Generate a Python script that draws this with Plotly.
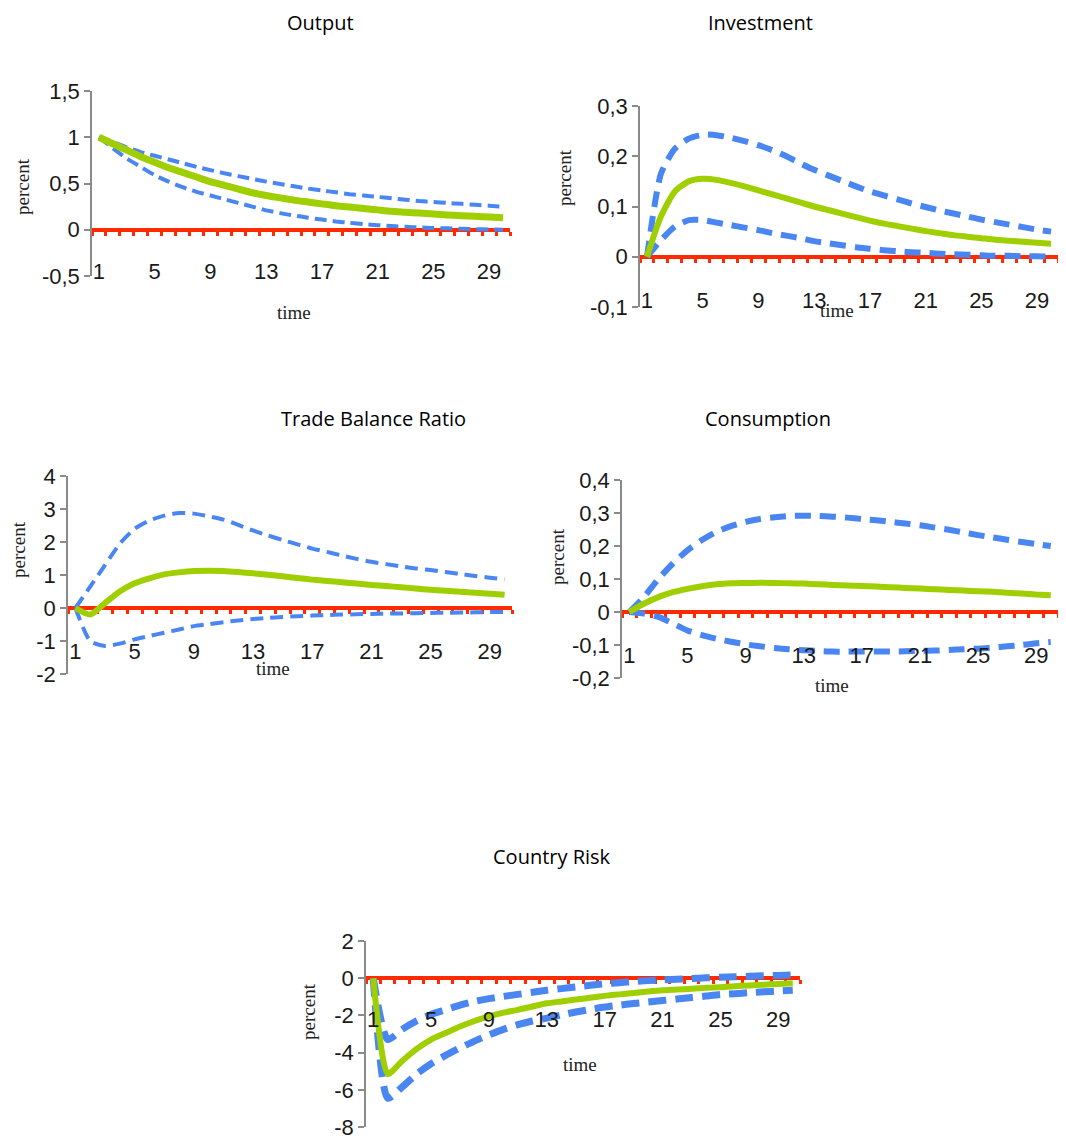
import plotly.graph_objects as go

periods = list(range(1, 31))
x_tick_labels = ["1", "5", "9", "13", "17", "21", "25", "29"]

output_mid = [1.0, 0.93, 0.86, 0.79, 0.73, 0.67, 0.62, 0.57, 0.52, 0.48, 0.44, 0.40, 0.37, 0.345, 0.32,
              0.30, 0.28, 0.26, 0.245, 0.23, 0.215, 0.20, 0.19, 0.18, 0.17, 0.16, 0.152, 0.145, 0.138, 0.13]
output_up = [1.0, 0.95, 0.89, 0.84, 0.80, 0.76, 0.72, 0.68, 0.645, 0.61, 0.58, 0.55, 0.52, 0.495, 0.47,
             0.445, 0.425, 0.405, 0.385, 0.37, 0.355, 0.34, 0.325, 0.31, 0.30, 0.29, 0.28, 0.27, 0.26, 0.25]
output_lo = [1.0, 0.88, 0.77, 0.68, 0.59, 0.52, 0.46, 0.41, 0.37, 0.33, 0.29, 0.25, 0.21, 0.18, 0.155,
             0.13, 0.11, 0.09, 0.075, 0.06, 0.05, 0.04, 0.032, 0.025, 0.02, 0.015, 0.01, 0.006, 0.003, 0.0]

invest_mid = [0, 0.08, 0.13, 0.15, 0.155, 0.153, 0.147, 0.14, 0.132, 0.124, 0.116, 0.108, 0.1, 0.093, 0.086,
              0.079, 0.072, 0.066, 0.061, 0.056, 0.051, 0.047, 0.043, 0.04, 0.037, 0.034, 0.032, 0.03, 0.028, 0.026]
invest_up = [0, 0.165, 0.215, 0.235, 0.243, 0.242, 0.237, 0.23, 0.222, 0.212, 0.2, 0.186, 0.173, 0.162, 0.151,
             0.14, 0.13, 0.122, 0.114, 0.106, 0.099, 0.092, 0.086, 0.08, 0.074, 0.069, 0.064, 0.059, 0.054, 0.05]
invest_lo = [0, 0.033, 0.06, 0.073, 0.073, 0.068, 0.063, 0.058, 0.053, 0.047, 0.042, 0.037, 0.031, 0.027, 0.023,
             0.019, 0.016, 0.013, 0.011, 0.009, 0.008, 0.006, 0.005, 0.004, 0.003, 0.002, 0.002, 0.001, 0.001, 0.0]

tb_mid = [0, -0.2, 0.15, 0.5, 0.75, 0.9, 1.02, 1.08, 1.12, 1.13, 1.12, 1.09, 1.05, 1.01, 0.96,
          0.91, 0.86, 0.82, 0.78, 0.74, 0.7, 0.665, 0.63, 0.59, 0.55, 0.52, 0.49, 0.46, 0.43, 0.40]
tb_up = [0, 0.65, 1.3, 1.95, 2.4, 2.65, 2.8, 2.88, 2.86, 2.78, 2.68, 2.52, 2.35, 2.2, 2.06,
         1.93, 1.8, 1.7, 1.59, 1.49, 1.4, 1.33, 1.26, 1.2, 1.15, 1.09, 1.03, 0.97, 0.92, 0.87]
tb_lo = [0, -1.0, -1.15, -1.08, -0.95, -0.85, -0.75, -0.65, -0.55, -0.49, -0.43, -0.38, -0.33, -0.3, -0.27,
         -0.25, -0.23, -0.215, -0.2, -0.19, -0.18, -0.17, -0.165, -0.16, -0.15, -0.145, -0.14, -0.13, -0.125, -0.12]

cons_mid = [0, 0.025, 0.045, 0.06, 0.07, 0.078, 0.084, 0.087, 0.088, 0.089, 0.088, 0.087, 0.086, 0.084, 0.082,
            0.08, 0.079, 0.077, 0.075, 0.073, 0.071, 0.069, 0.067, 0.065, 0.063, 0.061, 0.058, 0.056, 0.053, 0.051]
cons_up = [0, 0.045, 0.1, 0.147, 0.187, 0.218, 0.243, 0.26, 0.273, 0.282, 0.287, 0.291, 0.292, 0.291, 0.289,
           0.286, 0.282, 0.278, 0.273, 0.268, 0.263, 0.256, 0.249, 0.241, 0.233, 0.226, 0.219, 0.212, 0.206, 0.2]
cons_lo = [0, -0.005, -0.015, -0.035, -0.056, -0.07, -0.081, -0.09, -0.098, -0.104, -0.109, -0.113, -0.116, -0.118, -0.12,
           -0.12, -0.12, -0.12, -0.12, -0.119, -0.118, -0.117, -0.115, -0.113, -0.111, -0.108, -0.104, -0.1, -0.095, -0.091]

risk_mid = [0, -5.15, -4.45, -3.8, -3.3, -2.95, -2.6, -2.3, -2.05, -1.85, -1.7, -1.52, -1.35, -1.25, -1.15,
            -1.05, -0.95, -0.87, -0.8, -0.72, -0.65, -0.61, -0.57, -0.52, -0.48, -0.43, -0.39, -0.35, -0.31, -0.27]
risk_up = [0, -3.3, -2.75, -2.3, -1.95, -1.7, -1.45, -1.25, -1.1, -0.98, -0.87, -0.76, -0.65, -0.56, -0.47,
           -0.38, -0.3, -0.24, -0.18, -0.13, -0.09, -0.05, -0.02, 0.02, 0.05, 0.08, 0.1, 0.13, 0.15, 0.17]
risk_lo = [0, -6.45, -5.85, -5.15, -4.6, -4.15, -3.75, -3.38, -3.05, -2.75, -2.5, -2.3, -2.15, -1.98, -1.82,
           -1.68, -1.55, -1.45, -1.36, -1.28, -1.2, -1.12, -1.04, -0.96, -0.88, -0.83, -0.78, -0.73, -0.69, -0.65]

titles = ["Output", "Investment", "Trade Balance Ratio", "Consumption", "Country Risk"]
y_ticks = [
    ([-0.5, 0, 0.5, 1, 1.5], ["-0,5", "0", "0,5", "1", "1,5"]),
    ([-0.1, 0, 0.1, 0.2, 0.3], ["-0,1", "0", "0,1", "0,2", "0,3"]),
    ([-2, -1, 0, 1, 2, 3, 4], ["-2", "-1", "0", "1", "2", "3", "4"]),
    ([-0.2, -0.1, 0, 0.1, 0.2, 0.3, 0.4], ["-0,2", "-0,1", "0", "0,1", "0,2", "0,3", "0,4"]),
    ([-8, -6, -4, -2, 0, 2], ["-8", "-6", "-4", "-2", "0", "2"]),
]
series = [
    (output_mid, output_up, output_lo),
    (invest_mid, invest_up, invest_lo),
    (tb_mid, tb_up, tb_lo),
    (cons_mid, cons_up, cons_lo),
    (risk_mid, risk_up, risk_lo),
]

OFF = 8  # page body margin
W, H = 1066 - 2 * OFF, 1148 - 2 * OFF
panels = [
    dict(x0=92, x1=510, yt=91, yb=276, lab=256, title=(320, 23), pct=(22, 187), time=(294, 312), bw=4, gw=7, dash="12px,6px"),
    dict(x0=640, x1=1058, yt=106, yb=307, lab=285, title=(760, 23), pct=(565, 178), time=(837, 310), bw=6, gw=6, dash="16px,9px"),
    dict(x0=68, x1=512, yt=476, yb=674, lab=636, title=(373, 418), pct=(18, 550), time=(273, 668), bw=4, gw=6, dash="13px,7px"),
    dict(x0=622, x1=1058, yt=480, yb=678, lab=640, title=(768, 418), pct=(557, 557), time=(832, 685), bw=6, gw=6, dash="16px,9px"),
    dict(x0=366, x1=800, yt=941, yb=1127, lab=1004, title=(552, 856), pct=(308, 1012), time=(580, 1064), bw=7, gw=6, dash="18px,9px"),
]

GREEN = "#9fcf00"
BLUE = "#4a86f2"
RED = "#ff2a00"

def fx(px):
    return min(1.0, max(0.0, (px - OFF) / W))

def fy(py):
    return min(1.0, max(0.0, 1 - (py - OFF) / H))

fig = go.Figure()
layout = dict(width=W, height=H, margin=dict(l=0, r=0, t=0, b=0, autoexpand=False), showlegend=False,
              plot_bgcolor="white", paper_bgcolor="white", annotations=[], template="none")

for i, (p, (mid, up, lo), (tv, tt), title) in enumerate(zip(panels, series, y_ticks, titles)):
    n = i + 1
    xa = "x" if n == 1 else f"x{n}"
    ya = "y" if n == 1 else f"y{n}"
    red_n = n + 5
    ymin, ymax = tv[0], tv[-1]
    ydom = [fy(p["yb"]), fy(p["yt"])]
    xdom = [fx(p["x0"]), fx(p["x1"])]

    for s in (up, lo):
        fig.add_trace(go.Scatter(x=periods, y=s, mode="lines", xaxis=xa, yaxis=ya,
                                 line=dict(color=BLUE, width=p["bw"], dash=p["dash"], shape="spline", smoothing=0.6),
                                 hoverinfo="skip"))
    fig.add_trace(go.Scatter(x=periods, y=mid, mode="lines", xaxis=xa, yaxis=ya,
                             line=dict(color=GREEN, width=p["gw"], shape="spline", smoothing=0.6),
                             hoverinfo="skip"))

    zero_frac = ydom[0] + (0 - ymin) / (ymax - ymin) * (ydom[1] - ydom[0])
    layout[f"xaxis{n}"] = dict(domain=xdom, range=[0.5, 30.5], anchor="free", position=fy(p["lab"]),
                               tickvals=[1, 5, 9, 13, 17, 21, 25, 29], ticktext=x_tick_labels,
                               showline=False, showgrid=False, zeroline=False, ticks="", automargin=False,
                               tickfont=dict(family="Liberation Sans, Arial", size=22, color="#1a1a1a"))
    layout[f"xaxis{red_n}"] = dict(overlaying=xa, range=[0.5, 30.5], anchor="free", position=zero_frac,
                                   showline=True, linecolor=RED, linewidth=4, layer="below traces",
                                   ticks="outside", tickcolor=RED, tickwidth=3, ticklen=4, automargin=False,
                                   tickvals=[k + 0.5 for k in range(0, 31)], showticklabels=False,
                                   showgrid=False, zeroline=False)
    layout[f"yaxis{n}"] = dict(domain=ydom, range=[ymin, ymax], anchor=xa, showgrid=False, zeroline=False,
                               showline=True, linecolor="#8a8a8a", linewidth=1.5, ticks="outside",
                               tickcolor="#8a8a8a", ticklen=6, tickwidth=1.5, automargin=False,
                               tickvals=tv, ticktext=tt,
                               tickfont=dict(family="Liberation Sans, Arial", size=22, color="#1a1a1a"))
    fig.add_trace(go.Scatter(x=[None], y=[None], xaxis=f"x{red_n}", yaxis=ya, mode="lines",
                             hoverinfo="skip"))

    layout["annotations"].append(dict(text=title, x=fx(p["title"][0]), y=fy(p["title"][1]), xref="paper", yref="paper",
                                      showarrow=False, xanchor="center", yanchor="middle",
                                      font=dict(family="Open Sans, Lato", size=20, color="#000")))
    layout["annotations"].append(dict(text="percent", x=fx(p["pct"][0]), y=fy(p["pct"][1]), xref="paper", yref="paper",
                                      showarrow=False, xanchor="center", yanchor="middle", textangle=-90,
                                      font=dict(family="Liberation Serif, DejaVu Serif", size=19, color="#222")))
    layout["annotations"].append(dict(text="time", x=fx(p["time"][0]), y=fy(p["time"][1]), xref="paper", yref="paper",
                                      showarrow=False, xanchor="center", yanchor="middle",
                                      font=dict(family="Liberation Serif, DejaVu Serif", size=19, color="#222")))

fig.update_layout(**layout)
fig.write_html("out.html")
